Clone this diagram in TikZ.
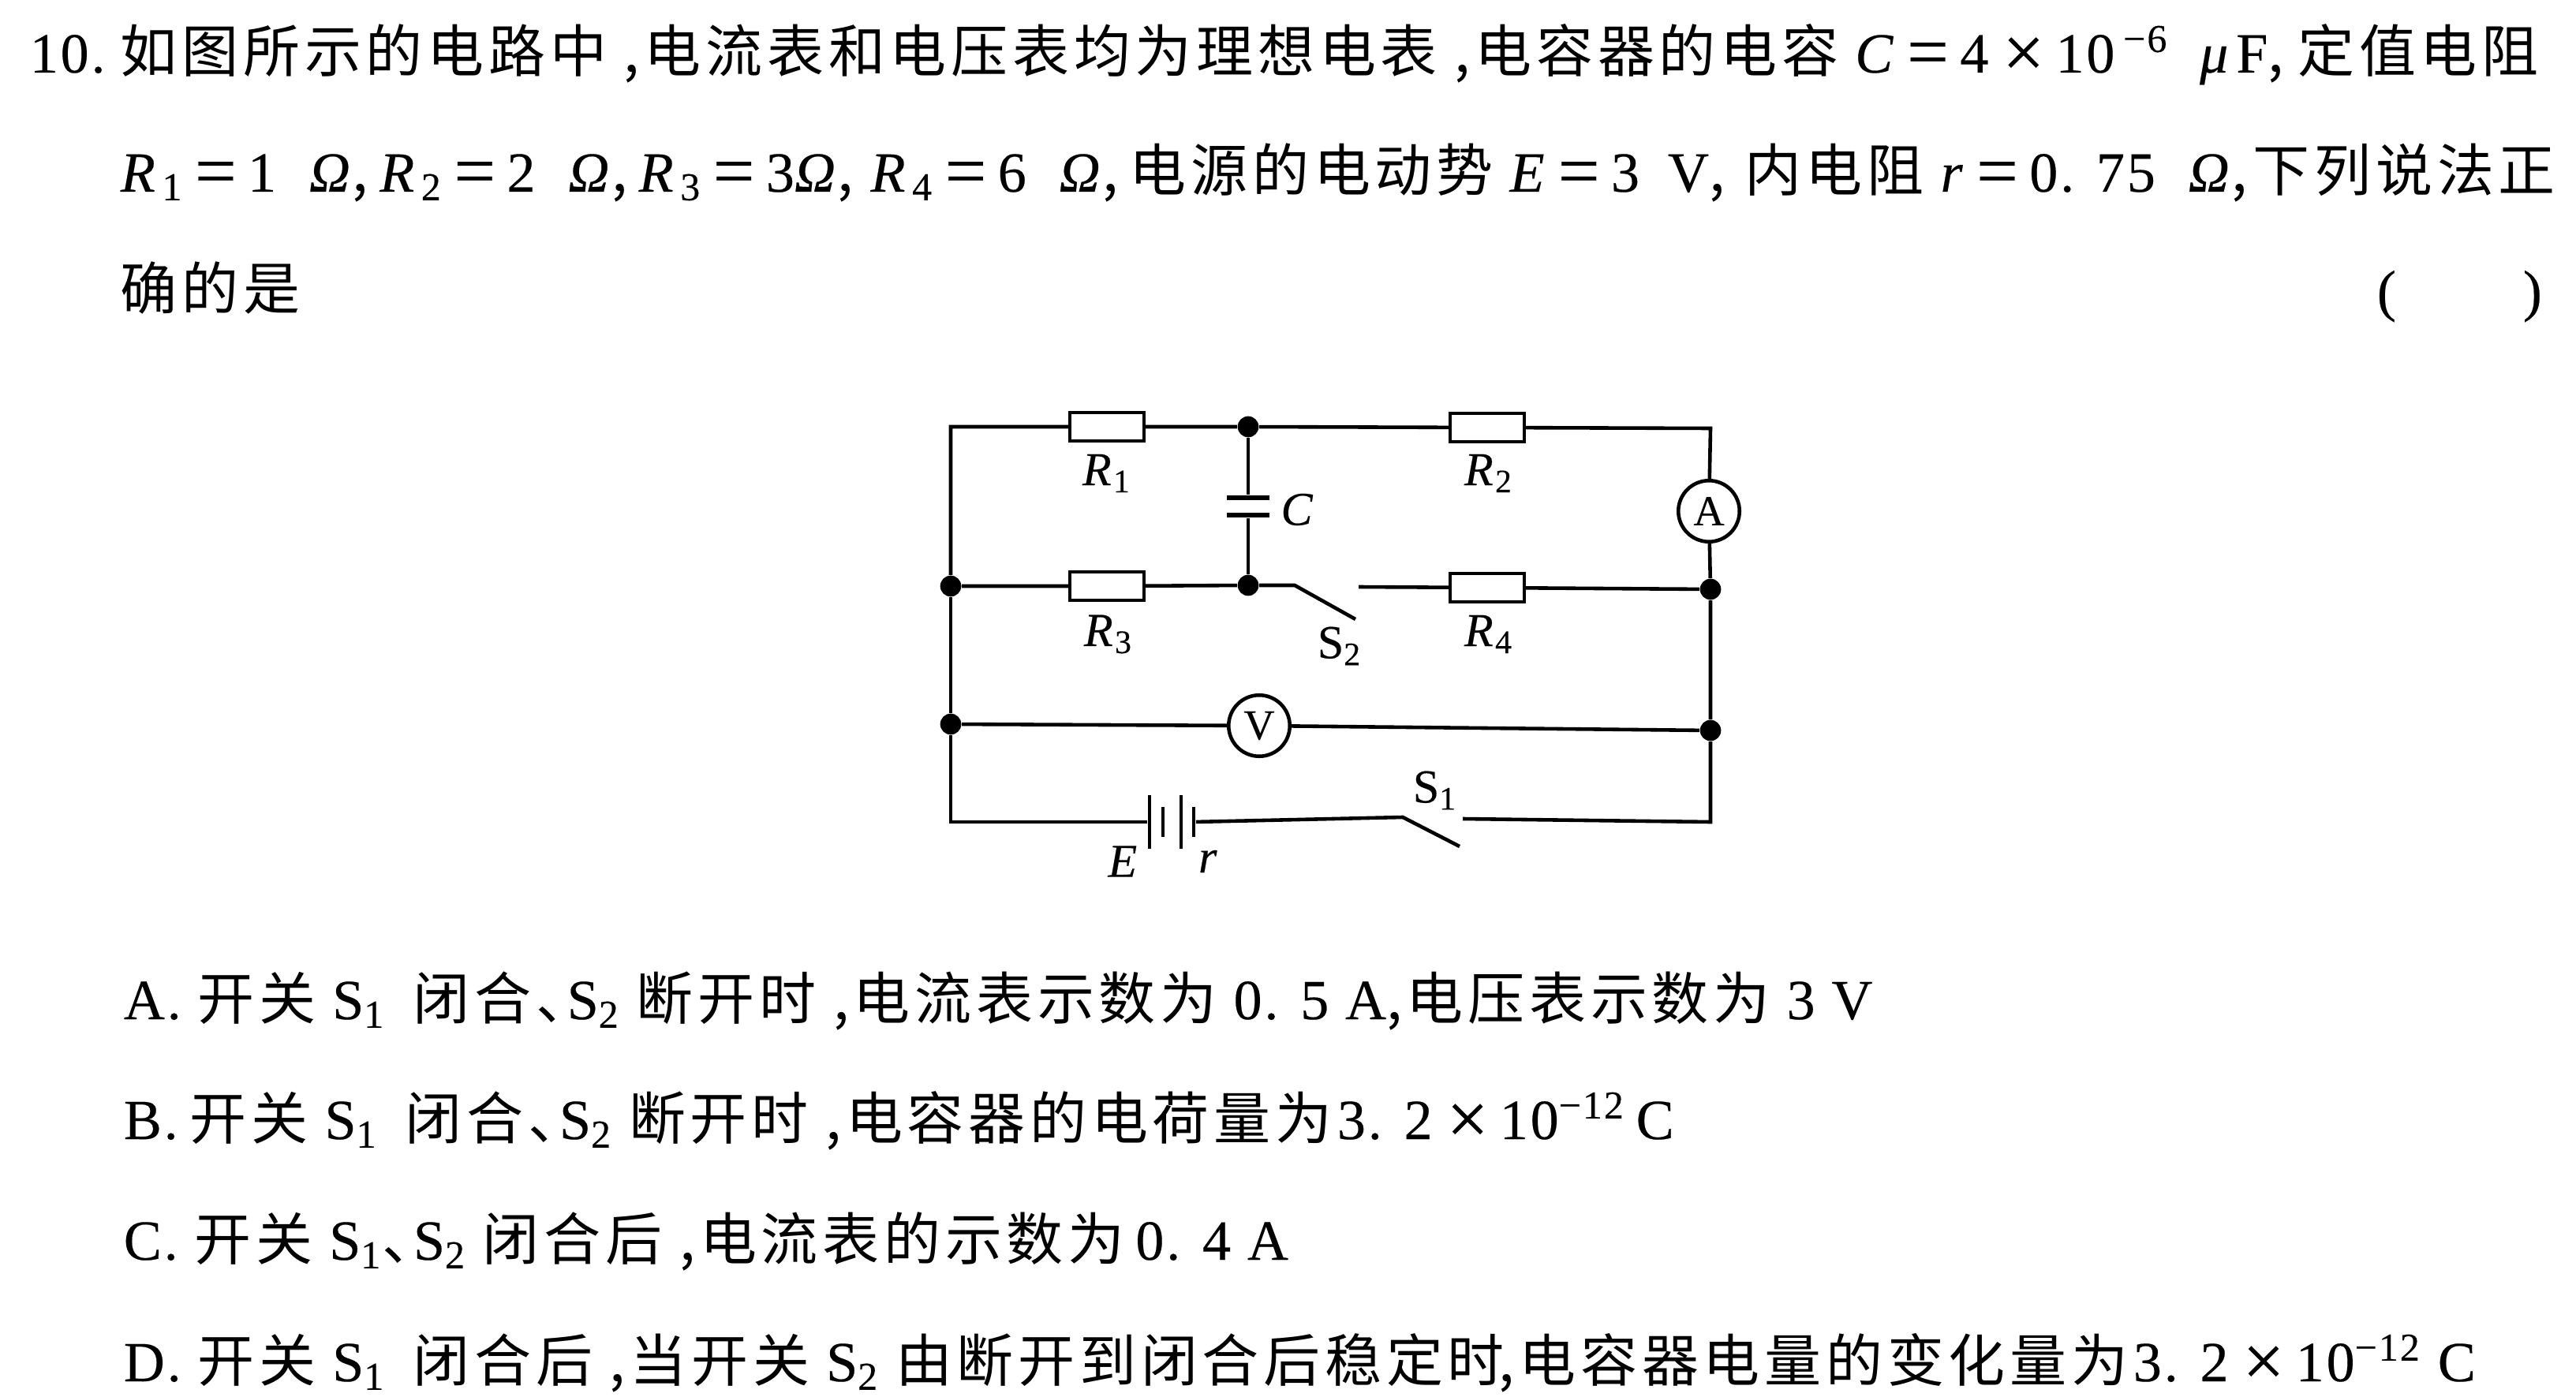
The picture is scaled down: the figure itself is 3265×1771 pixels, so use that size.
\documentclass[tikz,border=0pt]{standalone}
\usepackage{fontspec}
\setmainfont{Liberation Serif}[FakeBold=0.3,LetterSpace=4]
\newfontfamily\cjk[LetterSpace=8]{Noto Sans CJK SC}
\newcommand{\zh}[1]{{\cjk #1}}
\newcommand{\dun}{\zh{、}\hspace{-.45em}}
\newcommand{\sub}[1]{\textsubscript{#1}}
\newcommand{\vi}[1]{\textit{#1}}
\newcommand{\eq}{\hspace{.2em}\raisebox{-.07em}{\scalebox{1.3}{=}}\hspace{.2em}}
\newcommand{\cheng}{\hspace{.25em}\raisebox{-.08em}{\scalebox{1.3}{×}}\hspace{.2em}}

\tikzset{
  wire/.style={line width=1.1pt},
  junction/.style={circle,fill=black,inner sep=0pt,minimum size=6.4pt},
  resistor/.style={draw,line width=1.1pt,rectangle,fill=white,inner sep=0pt,minimum width=22.5pt,minimum height=8.6pt},
  meter/.style={draw,line width=1.1pt,circle,fill=white,inner sep=0pt,minimum size=18.6pt,font=\fontsize{13}{13}\selectfont},
  capplate/.style={rectangle,fill=black,inner sep=0pt,minimum width=13pt,minimum height=1.3pt},
  longplate/.style={rectangle,fill=black,inner sep=0pt,minimum width=1pt,minimum height=16.5pt},
  shortplate/.style={rectangle,fill=black,inner sep=0pt,minimum width=1pt,minimum height=9pt},
  partlabel/.style={inner sep=0pt,font=\fontsize{14.4}{14.4}\selectfont},
  qline/.style={anchor=base west,inner sep=0pt,font=\fontsize{17.28}{20}\selectfont},
}

\begin{document}
\begin{tikzpicture}[x=0.24pt,y=-0.24pt]

\useasboundingbox (0,0) rectangle (3265,1771);

% question
\node[qline] (num) at (37,92) {10.};
\node[qline] (qa) at (152,92) {\zh{如图所示的电路中 ,电流表和电压表均为理想电表 ,电容器的电容} \vi{C}\eq 4\cheng 10\hspace{.15em}\textsuperscript{−6}\hspace{.55em}\vi{μ}\hspace{.1em}F\zh{,}\hspace{.25em}\zh{定值电阻}};
\node[qline] (qb) at (152,243) {\vi{R}\hspace{.08em}\sub{1}\eq 1\ \ \vi{Ω}\zh{,}\hspace{.2em}\vi{R}\hspace{.08em}\sub{2}\eq 2\ \ \vi{Ω}\zh{,}\hspace{.2em}\vi{R}\hspace{.08em}\sub{3}\eq 3\vi{Ω}\zh{,}\hspace{.3em}\vi{R}\hspace{.08em}\sub{4}\eq 6\ \ \vi{Ω}\zh{,}\hspace{.2em}\zh{电源的电动势} \vi{E}\eq 3\hspace{.5em}V\zh{,}\hspace{.35em}\zh{内电阻} \vi{r}\eq 0. 75\ \ \vi{Ω}\zh{,}\hspace{.1em}\zh{下列说法正}};
\node[qline] (qc) at (152,393) {\zh{确的是}};
\node[qline] (lpar) at (3012,393) {(};
\node[qline] (rpar) at (3197,393) {)};

% circuit
\node[junction] (jtop) at (1582,541) {};
\node[junction] (jmid) at (1582,742) {};
\node[junction] (jl1) at (1205,743) {};
\node[junction] (jl2) at (1205,918) {};
\node[junction] (jr1) at (2168,747) {};
\node[junction] (jr2) at (2168,926) {};
\coordinate (tl) at (1205,541);
\coordinate (tr) at (2168,543);
\coordinate (bl) at (1205,1042);
\coordinate (br) at (2168,1042);

\node[resistor] (R1) at (1403,541) {};
\node[resistor] (R2) at (1885,542) {};
\node[resistor] (R3) at (1403,743) {};
\node[resistor] (R4) at (1885,745) {};
\node[meter] (A) at (2166,648) {A};
\node[meter] (V) at (1596,920) {V};
\node[capplate] (C1) at (1582,631) {};
\node[capplate] (C2) at (1582,653) {};

\node[longplate] (E1) at (1457,1042) {};
\node[shortplate] (E2) at (1474,1042) {};
\node[longplate] (E3) at (1497,1042) {};
\node[shortplate] (E4) at (1513,1042) {};

\coordinate (s2a) at (1641,742);
\coordinate (s2b) at (1718,785);
\coordinate (s2c) at (1722,744);
\coordinate (s1a) at (1778,1036);
\coordinate (s1b) at (1850,1073);
\coordinate (s1c) at (1854,1038);

\draw[wire] (jl1) -- (tl) -- (R1) -- (jtop) -- (R2) -- (tr) -- (A) -- (jr1) -- (jr2) -- (br) -- (s1c);
\draw[wire] (jl1) -- (R3) -- (jmid) -- (s2a) -- (s2b);
\draw[wire] (s2c) -- (R4) -- (jr1);
\draw[wire] (jl1) -- (jl2) -- (bl) -- (E1);
\draw[wire] (jl2) -- (V) -- (jr2);
\draw[wire] (jtop) -- (C1);
\draw[wire] (C2) -- (jmid);
\draw[wire] (E4) -- (s1a) -- (s1b);

\node[partlabel] (lR1) at (1403,600) {\vi{R}\sub{1}};
\node[partlabel] (lR2) at (1887,600) {\vi{R}\sub{2}};
\node[partlabel] (lR3) at (1405,804) {\vi{R}\sub{3}};
\node[partlabel] (lR4) at (1887,804) {\vi{R}\sub{4}};
\node[partlabel] (lC) at (1645,646) {\vi{C}};
\node[partlabel] (lS2) at (1698,819) {S\sub{2}};
\node[partlabel] (lS1) at (1819,1002) {S\sub{1}};
\node[partlabel] (lE) at (1424,1092) {\vi{E}};
\node[partlabel] (lr) at (1532,1092) {\vi{r}};

% options
\node[qline] (optA) at (156,1292) {A. \zh{开关} S\sub{1}\hspace{.2em} \zh{闭合}\dun S\sub{2} \zh{断开时 ,电流表示数为} 0. 5 A\zh{,电压表示数为} 3 V};
\node[qline] (optB) at (156,1444) {B.\hspace{-.08em} \zh{开关} S\sub{1}\hspace{.2em} \zh{闭合}\dun S\sub{2} \zh{断开时 ,电容器的电荷量为}\hspace{-.2em} 3. 2\cheng 10\textsuperscript{−12}\hspace{-.1em} C};
\node[qline] (optC) at (156,1597) {C. \zh{开关} S\sub{1}\dun S\sub{2} \zh{闭合后 ,电流表的示数为}\hspace{-.1em} 0. 4 A};
\node[qline] (optD) at (156,1751) {D. \zh{开关} S\sub{1}\hspace{.2em} \zh{闭合后 ,当开关} S\sub{2} \zh{由断开到闭合后稳定时}\hspace{-.1em}\zh{,电容器电量的变化量为}\hspace{-.2em} 3. 2\cheng 10\textsuperscript{−12} C};

\end{tikzpicture}
\end{document}
